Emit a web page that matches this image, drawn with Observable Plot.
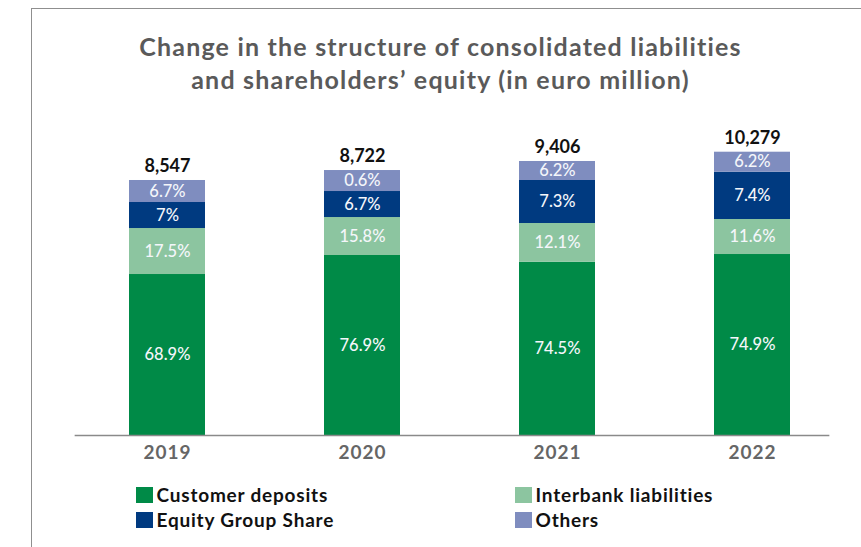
<!DOCTYPE html>
<html>
<head>
<meta charset="utf-8">
<script src="https://cdn.jsdelivr.net/npm/d3@7"></script>
<script src="https://cdn.jsdelivr.net/npm/@observablehq/plot@0.6"></script>
<style>
  html, body { margin: 0; padding: 0; background: #fff; }
  #wrap { position: relative; width: 861px; height: 547px; overflow: hidden; font-family: Lato, "Open Sans", sans-serif; }
  #frame { position: absolute; left: 31px; top: 8px; width: 840px; height: 560px; border-top: 1.5px solid #8f8f8f; border-left: 1.5px solid #8f8f8f; }
  #title { position: absolute; left: 0; top: 30px; width: 881px; text-align: center; font-weight: 700; font-size: 25px; letter-spacing: 1.2px; line-height: 33px; color: #5a5a5a; }
  #chart { position: absolute; left: 0; top: 0; }
  .leg { position: absolute; display: flex; align-items: center; font-weight: 700; font-size: 19px; letter-spacing: 0.8px; color: #111; }
  .sw { width: 16.5px; height: 16px; margin-right: 4px; }
</style>
</head>
<body>
<div id="wrap">
  <div id="frame"></div>
  <div id="chart"></div>
  <div id="title">Change in the structure of consolidated liabilities<br>and shareholders’ equity (in euro million)</div>
  <div id="legend"></div>
</div>
<script>
// ---- data ----
const years = ["2019", "2020", "2021", "2022"];
const totals = [8547, 8722, 9406, 10279];
const seriesNames = ["Customer deposits", "Interbank liabilities", "Equity Group Share", "Others"];
const seriesColors = ["#008a47", "#8cc5a0", "#003a80", "#7f8dbf"];
// shares printed on the segments (%)
const customerPct = [68.9, 76.9, 74.5, 74.9];
const interbankPct = [17.5, 15.8, 12.1, 11.6];
const equityPct = [7, 6.7, 7.3, 7.4];
const othersPct = [6.7, 0.6, 6.2, 6.2];
// segment sizes as drawn in the picture (euro million scale of the drawing)
const customerDrawn = [5844, 6534, 6291, 6570];
const interbankDrawn = [1670, 1379, 1405, 1271];
const equityDrawn = [944, 944, 1561, 1717];
const othersDrawn = [799, 762, 690, 726];

const pcts = [customerPct, interbankPct, equityPct, othersPct];
const drawn = [customerDrawn, interbankDrawn, equityDrawn, othersDrawn];

const rows = [];
years.forEach((yr, i) => {
  seriesNames.forEach((s, k) => {
    rows.push({year: yr, series: s, value: drawn[k][i], label: pcts[k][i] + "%"});
  });
});
const tops = years.map((yr, i) => ({year: yr, top: d3.sum(drawn, arr => arr[i]), label: d3.format(",")(totals[i])}));

const chart = Plot.plot({
  width: 861,
  height: 547,
  marginTop: 100,
  marginBottom: 112,
  marginLeft: 69.65,
  marginRight: 11.65,
  style: {fontFamily: "Lato, 'Open Sans', sans-serif", background: "transparent"},
  x: {domain: years, paddingInner: 0.611, paddingOuter: 0.3, label: null},
  y: {domain: [0, 12161], axis: null},
  color: {domain: seriesNames, range: seriesColors},
  marks: [
    Plot.barY(rows, {x: "year", y: "value", fill: "series", order: null}),
    Plot.text(rows, Plot.stackY({x: "year", y: "value", z: "series", order: null, text: "label", fill: "#f4f6fa", fontSize: 16.5, fontWeight: 500})),
    Plot.text(tops, {x: "year", y: "top", text: "label", dy: -14, fontSize: 18, fontWeight: 700, fill: "#111", style: "letter-spacing:0.4px"}),
    Plot.ruleY([0], {stroke: "#8a8a8a", strokeWidth: 1.5, insetLeft: 5, insetRight: 20}),
    Plot.axisX({tickSize: 0, tickPadding: 10, fontSize: 19, fontWeight: 700, fill: "#666", label: null})
  ]
});
chart.querySelectorAll("[aria-label='x-axis tick label'] text").forEach(t => t.setAttribute("letter-spacing", "1"));
document.getElementById("chart").appendChild(chart);

// legend (HTML, below the svg area)
const legendPos = [
  {left: 136, top: 486}, {left: 515, top: 486},
  {left: 136, top: 511}, {left: 515, top: 511}
];
const legendOrder = [0, 1, 2, 3];
const legend = document.getElementById("legend");
legendOrder.forEach((k, j) => {
  const d = document.createElement("div");
  d.className = "leg";
  d.style.left = legendPos[j].left + "px";
  d.style.top = (legendPos[j].top - 3) + "px";
  d.innerHTML = `<div class="sw" style="background:${seriesColors[k]}"></div><span>${seriesNames[k]}</span>`;
  legend.appendChild(d);
});
</script>
</body>
</html>
